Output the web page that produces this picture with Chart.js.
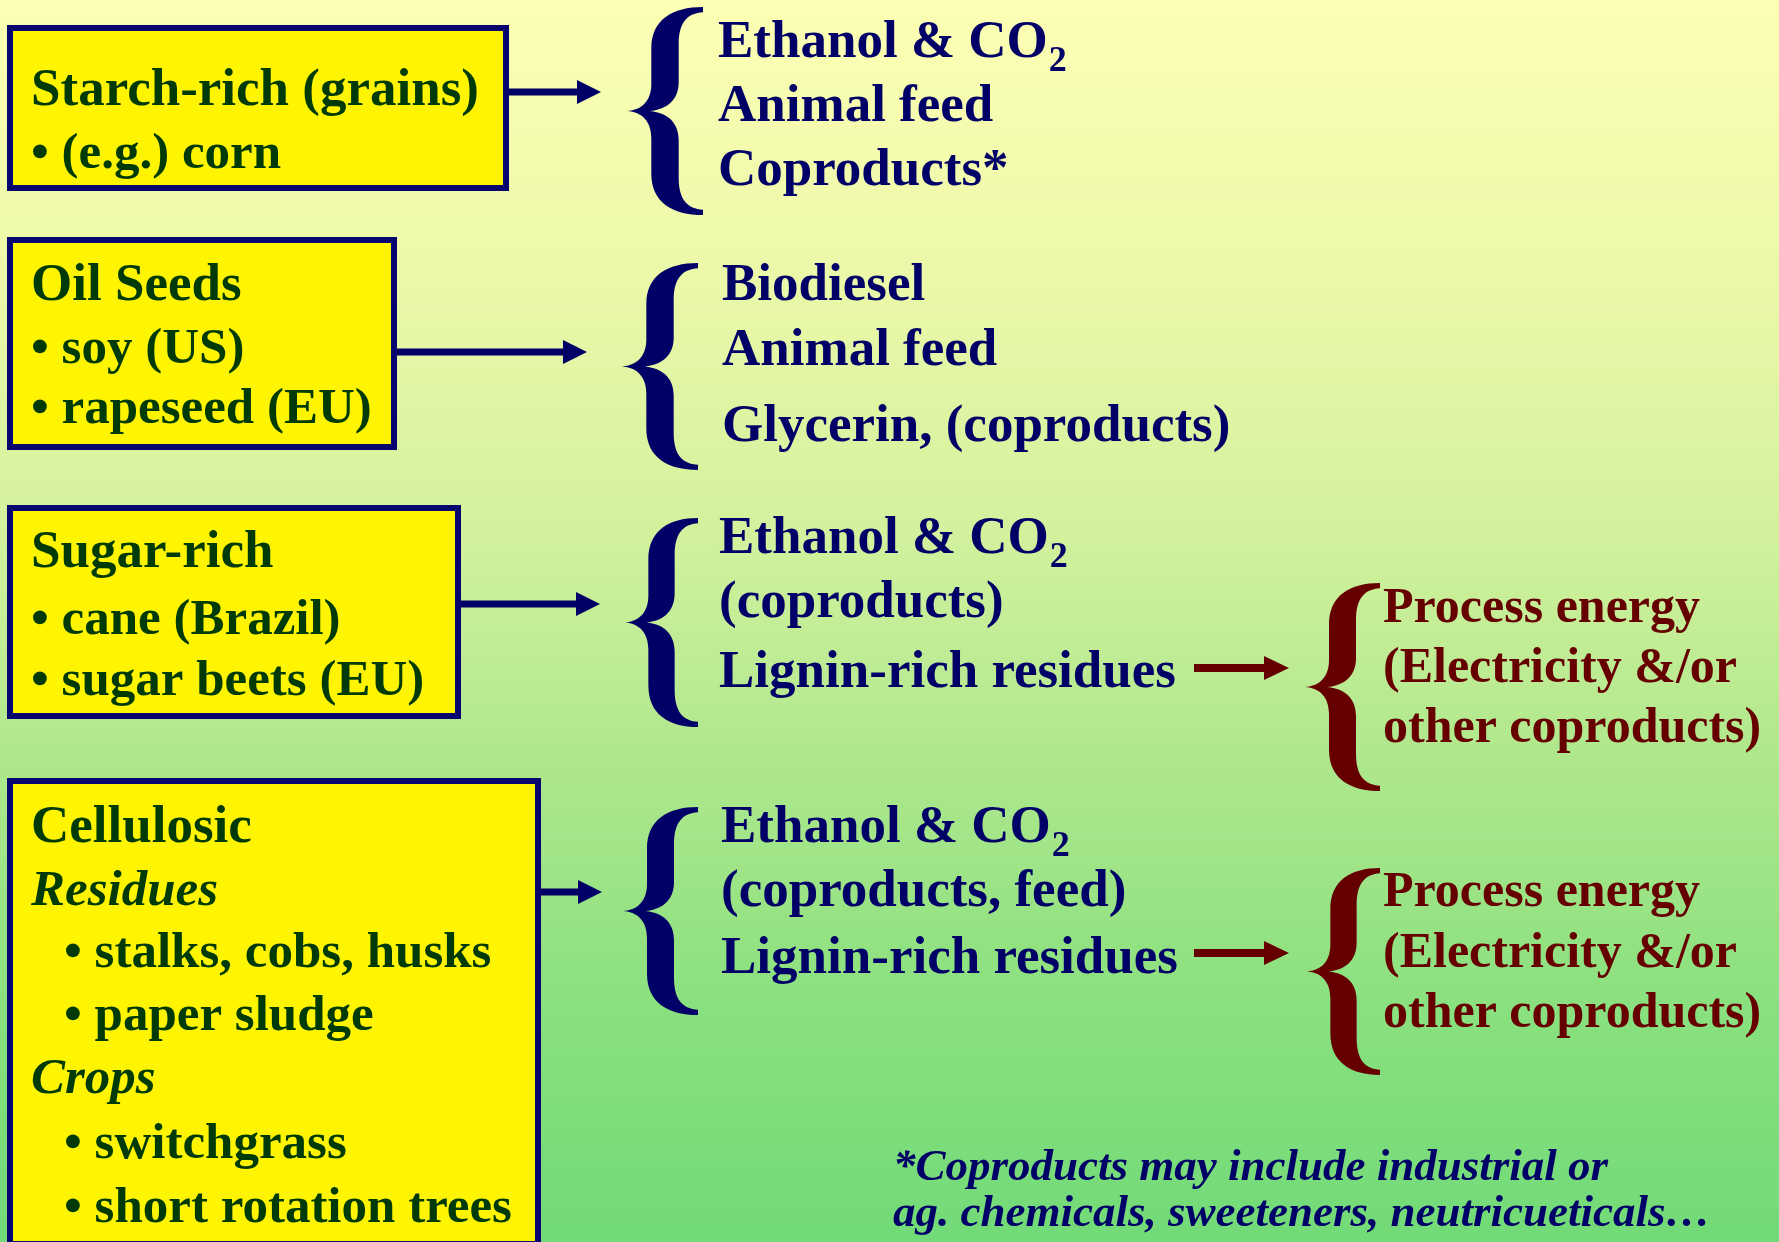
<!DOCTYPE html>
<html>
<head>
<meta charset="utf-8">
<script src="https://cdn.jsdelivr.net/npm/chart.js@4.4.1/dist/chart.umd.min.js"></script>
<style>
  html, body { margin: 0; padding: 0; overflow: hidden; background: #ffffff; }
  canvas { display: block; }
</style>
</head>
<body>
<canvas id="c" width="1779" height="1242"></canvas>
<script>
// ---------------- DATA ----------------
const feedstockTitles = ["Starch-rich (grains)", "Oil Seeds", "Sugar-rich", "Cellulosic"];
const starchItems = ["• (e.g.) corn"];
const oilItems = ["• soy (US)", "• rapeseed (EU)"];
const sugarItems = ["• cane (Brazil)", "• sugar beets (EU)"];
const celluloseItems = ["Residues", "• stalks, cobs, husks", "• paper sludge", "Crops", "• switchgrass", "• short rotation trees"];
const feedstockItems = [starchItems, oilItems, sugarItems, celluloseItems];

const starchProducts = ["Ethanol & CO_2", "Animal feed", "Coproducts*"];
const oilProducts = ["Biodiesel", "Animal feed", "Glycerin, (coproducts)"];
const sugarProducts = ["Ethanol & CO_2", "(coproducts)", "Lignin-rich residues"];
const celluloseProducts = ["Ethanol & CO_2", "(coproducts, feed)", "Lignin-rich residues"];
const productLists = [starchProducts, oilProducts, sugarProducts, celluloseProducts];

const energyLines = ["Process energy", "(Electricity &/or", "other coproducts)"];
const energyFrom = [2, 3];   // groups whose lignin-rich residues feed process energy

const footnoteLines = ["*Coproducts may include industrial or", "ag. chemicals, sweeteners, neutricueticals…"];

// ---------------- LAYOUT (positions / sizes) ----------------
const boxLayout = [
  { x0: 7, y0: 25,  x1: 509, y1: 191,  tx: 31, base: [105, 168] },
  { x0: 7, y0: 237, x1: 397, y1: 450,  tx: 31, base: [300, 363, 423] },
  { x0: 7, y0: 505, x1: 461, y1: 719,  tx: 31, base: [567, 634, 695] },
  { x0: 7, y0: 778, x1: 541, y1: 1247, tx: 31, indent: 64, base: [842, 905, 967, 1030, 1093, 1158, 1222] }
];
const arrowLayout = [
  { x1: 601, y: 92 }, { x1: 587, y: 352 }, { x1: 600, y: 604 }, { x1: 602, y: 892 }
];
const braceLayout = [
  { xl: 627, xr: 703, top: 7,   bottom: 215 },
  { xl: 622, xr: 698, top: 263, bottom: 470 },
  { xl: 625, xr: 698, top: 518, bottom: 727 },
  { xl: 623, xr: 698, top: 807, bottom: 1015 }
];
const productLayout = [
  { x: 718, base: [57, 121, 185] },
  { x: 722, base: [300, 365, 441] },
  { x: 719, base: [553, 617, 687] },
  { x: 721, base: [842, 906, 973] }
];
const energyLayout = [
  { ax0: 1194, ax1: 1289, ay: 668, brace: { xl: 1305, xr: 1380, top: 583, bottom: 791 }, x: 1383, base: [622, 682, 742] },
  { ax0: 1194, ax1: 1289, ay: 953, brace: { xl: 1307, xr: 1380, top: 868, bottom: 1075 }, x: 1383, base: [906, 967, 1027] }
];
const footLayout = { x: 893, base: [1180, 1226] };

const COL = {
  yellow: '#fff503', border: '#06066e', green: '#003a06', navy: '#000066', red: '#660000'
};
const SERIF = "'Liberation Serif', 'Times New Roman', serif";
const FONT_MAIN = "bold 53px " + SERIF;
const FONT_ITEM = "bold 51px " + SERIF;
const FONT_ITAL = "italic bold 51px " + SERIF;
const FONT_SUB = "bold 36px " + SERIF;
const FONT_RED = "bold 50px " + SERIF;
const FONT_FOOT = "italic bold 45px " + SERIF;

// ---------------- DRAWING PLUGIN ----------------
const diagramPlugin = {
  id: 'diagram',
  beforeDraw(chart) {
    const ctx = chart.ctx, sx = chart.scales.x, sy = chart.scales.y;
    const g = ctx.createLinearGradient(0, sy.getPixelForValue(0), 0, sy.getPixelForValue(1242));
    g.addColorStop(0, '#fcffb4');
    g.addColorStop(0.2, '#eef9aa');
    g.addColorStop(0.42, '#d4f29e');
    g.addColorStop(0.62, '#ade78c');
    g.addColorStop(0.82, '#88e07e');
    g.addColorStop(1, '#72da78');
    ctx.save();
    ctx.fillStyle = g;
    ctx.fillRect(sx.getPixelForValue(0), sy.getPixelForValue(0),
                 sx.getPixelForValue(1779) - sx.getPixelForValue(0),
                 sy.getPixelForValue(1242) - sy.getPixelForValue(0));
    ctx.restore();
  },
  afterDraw(chart) {
    const ctx = chart.ctx;
    const X = v => chart.scales.x.getPixelForValue(v);
    const Y = v => chart.scales.y.getPixelForValue(v);

    function text(str, x, y, font, color, subFont) {
      ctx.font = font; ctx.fillStyle = color;
      ctx.textBaseline = 'alphabetic'; ctx.textAlign = 'left';
      const parts = str.split('_');
      ctx.fillText(parts[0], X(x), Y(y));
      if (parts.length > 1) {
        const w = ctx.measureText(parts[0]).width;
        ctx.font = subFont;
        ctx.fillText(parts[1], X(x) + w + 1, Y(y + 14));
      }
    }
    function arrow(x0, x1, y, thick, headLen, headHalf, color) {
      ctx.fillStyle = color;
      ctx.fillRect(X(x0), Y(y) - thick / 2, X(x1 - headLen + 2) - X(x0), thick);
      ctx.beginPath();
      ctx.moveTo(X(x1 - headLen), Y(y) - headHalf);
      ctx.lineTo(X(x1), Y(y));
      ctx.lineTo(X(x1 - headLen), Y(y) + headHalf);
      ctx.closePath();
      ctx.fill();
    }
    function brace(b, color) {
      const W = X(b.xr) - X(b.xl), H = Y(b.bottom) - Y(b.top);
      const P = (u, v) => [X(b.xl) + u * W, Y(b.top) + v * H];
      ctx.fillStyle = color;
      ctx.beginPath();
      ctx.moveTo(...P(1, 0));
      ctx.bezierCurveTo(...P(0.6, 0.0), ...P(0.32, 0.06), ...P(0.32, 0.2));
      ctx.lineTo(...P(0.32, 0.37));
      ctx.bezierCurveTo(...P(0.32, 0.45), ...P(0.2, 0.495), ...P(0, 0.5));
      ctx.bezierCurveTo(...P(0.2, 0.505), ...P(0.32, 0.55), ...P(0.32, 0.63));
      ctx.lineTo(...P(0.32, 0.8));
      ctx.bezierCurveTo(...P(0.32, 0.94), ...P(0.6, 1.0), ...P(1, 1));
      ctx.lineTo(...P(1, 0.975));
      ctx.bezierCurveTo(...P(0.8, 0.97), ...P(0.68, 0.93), ...P(0.68, 0.82));
      ctx.lineTo(...P(0.68, 0.64));
      ctx.bezierCurveTo(...P(0.68, 0.56), ...P(0.55, 0.51), ...P(0.3, 0.5));
      ctx.bezierCurveTo(...P(0.55, 0.49), ...P(0.68, 0.44), ...P(0.68, 0.36));
      ctx.lineTo(...P(0.68, 0.18));
      ctx.bezierCurveTo(...P(0.68, 0.07), ...P(0.8, 0.03), ...P(1, 0.025));
      ctx.closePath();
      ctx.fill();
    }

    ctx.save();
    // feedstock boxes
    feedstockTitles.forEach((title, i) => {
      const L = boxLayout[i];
      const bw = 6;
      ctx.fillStyle = COL.yellow;
      ctx.fillRect(X(L.x0), Y(L.y0), X(L.x1) - X(L.x0), Y(L.y1) - Y(L.y0));
      ctx.strokeStyle = COL.border; ctx.lineWidth = bw;
      ctx.strokeRect(X(L.x0) + bw / 2, Y(L.y0) + bw / 2, X(L.x1) - X(L.x0) - bw, Y(L.y1) - Y(L.y0) - bw);
      text(title, L.tx, L.base[0], FONT_MAIN, COL.green);
      feedstockItems[i].forEach((item, j) => {
        const isBullet = item.startsWith('•');
        if (L.indent !== undefined) {
          if (isBullet) text(item, L.indent, L.base[j + 1], FONT_ITEM, COL.green);
          else text(item, L.tx, L.base[j + 1], FONT_ITAL, COL.green);
        } else {
          text(item, L.tx, L.base[j + 1], FONT_ITEM, COL.green);
        }
      });
      // arrow from box to products
      const A = arrowLayout[i];
      arrow(L.x1, A.x1, A.y, 7, 24, 12, COL.navy);
      // brace + product list
      brace(braceLayout[i], COL.navy);
      const PL = productLayout[i];
      productLists[i].forEach((p, j) => text(p, PL.x, PL.base[j], FONT_MAIN, COL.navy, FONT_SUB));
    });

    // process energy branches
    energyFrom.forEach((gi, k) => {
      const E = energyLayout[k];
      arrow(E.ax0, E.ax1, E.ay, 8, 25, 12, COL.red);
      brace(E.brace, COL.red);
      energyLines.forEach((t, j) => text(t, E.x, E.base[j], FONT_RED, COL.red));
    });

    // footnote
    footnoteLines.forEach((t, j) => text(t, footLayout.x, footLayout.base[j], FONT_FOOT, COL.navy));
    ctx.restore();
  }
};

new Chart(document.getElementById('c').getContext('2d'), {
  type: 'scatter',
  data: { datasets: [{ data: [], showLine: false }] },
  options: {
    responsive: false,
    animation: false,
    devicePixelRatio: 1,
    layout: { padding: 0 },
    plugins: { legend: { display: false }, tooltip: { enabled: false }, title: { display: false } },
    scales: {
      x: { type: 'linear', min: 0, max: 1779, display: false },
      y: { type: 'linear', min: 0, max: 1242, reverse: true, display: false }
    }
  },
  plugins: [diagramPlugin]
});
</script>
</body>
</html>
